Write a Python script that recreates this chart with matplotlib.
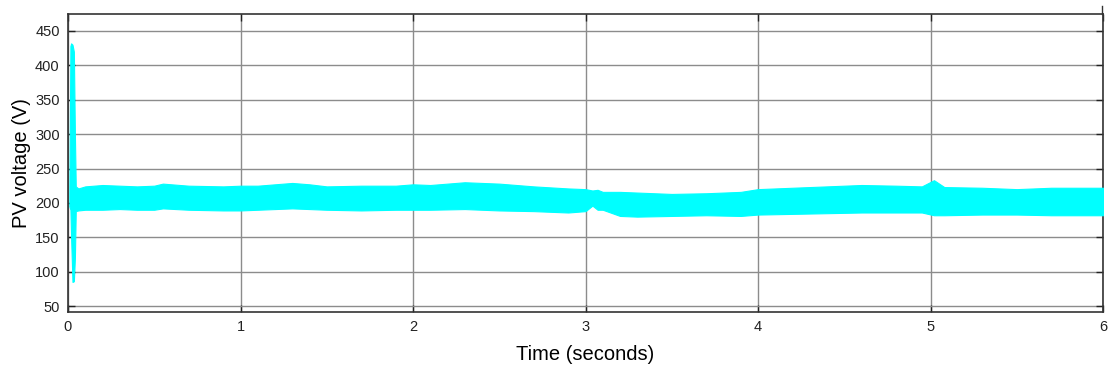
import matplotlib
matplotlib.use("Agg")
import matplotlib.pyplot as plt
from matplotlib.lines import Line2D

plt.rcParams['font.family'] = ['Liberation Sans', 'DejaVu Sans']

# Envelope of the PV voltage signal
time_s = [0.008, 0.014, 0.018, 0.026, 0.034, 0.040, 0.045, 0.06, 0.1, 0.2, 0.3, 0.4,
          0.5, 0.55, 0.7, 0.9, 1.0, 1.1, 1.2, 1.3, 1.4, 1.5, 1.7, 1.9, 2.0,
          2.1, 2.3, 2.5, 2.7, 2.9, 3.0, 3.04, 3.07, 3.1, 3.2, 3.3, 3.5, 3.7,
          3.9, 4.0, 4.2, 4.4, 4.6, 4.8, 4.95, 5.02, 5.08, 5.3, 5.5, 5.7, 5.9, 6.0]
v_upper = [215, 428, 432, 430, 420, 300, 224, 221, 224, 226, 225, 224,
           225, 228, 225, 224, 225, 225, 227, 229, 227, 224, 225, 225, 227,
           226, 230, 228, 224, 221, 220, 218, 219, 216, 216, 215, 213, 214,
           216, 220, 222, 224, 226, 225, 224, 233, 223, 222, 220, 222, 222, 222]
v_lower = [195, 190, 150, 85, 86, 120, 188, 189, 190, 190, 191, 190,
           190, 192, 190, 189, 189, 190, 191, 192, 191, 190, 189, 190, 190,
           190, 191, 189, 188, 186, 188, 196, 190, 190, 181, 180, 181, 182,
           181, 183, 184, 185, 186, 186, 186, 182, 182, 183, 183, 182, 182, 182]

x_ticks = [0, 1, 2, 3, 4, 5, 6]
y_ticks = [50, 100, 150, 200, 250, 300, 350, 400, 450]

fig = plt.figure(figsize=(11.1, 3.72), dpi=100)
ax = fig.add_axes([68/1110, 1 - 312/372, (1103-68)/1110, (312-14)/372])

ax.fill_between(time_s, v_lower, v_upper, color='#00FFFF', linewidth=0.8,
                edgecolor='#00FFFF', zorder=3)

ax.set_xlim(0, 6)
ax.set_ylim(41.3, 474.7)
ax.set_xticks(x_ticks)
ax.set_yticks(y_ticks)
ax.grid(True, color='#8c8c8c', linewidth=1.0, zorder=1)
ax.set_axisbelow(True)
ax.tick_params(direction='in', length=5, width=1.0, top=True, right=True,
               labelsize=10.5, colors='#222222', pad=6)
for s in ax.spines.values():
    s.set_color('#333333')
    s.set_linewidth(1.2)

ax.set_xlabel('Time (seconds)', fontsize=14.5, labelpad=8)
ax.set_ylabel('PV voltage (V)', fontsize=14.5, labelpad=3)

fig.add_artist(Line2D([1102/1110, 1102/1110], [1 - 6/372, 1 - 14/372],
                      transform=fig.transFigure, color='#333333', linewidth=1.0))

fig.savefig('out.png', dpi=100)
